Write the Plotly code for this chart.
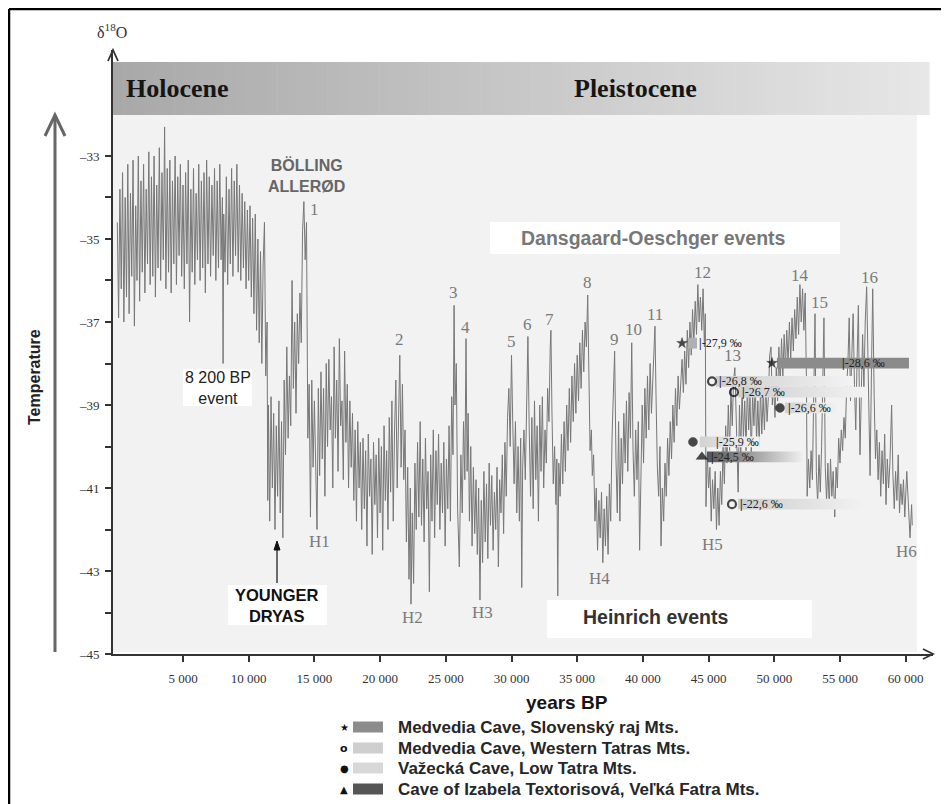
import plotly.graph_objects as go

# ---------------- data ----------------
# delta-18O record (years BP, per mil), in segments
holocene = [(0,-34.6),(100,-36.9),(200,-33.8),(300,-36.2),(400,-33.4),(500,-37.0),(600,-34.0),(700,-36.4),
            (800,-33.2),(900,-36.8),(1000,-33.9),(1100,-35.9),(1200,-33.1),(1300,-37.1),(1400,-34.2),(1500,-36.0),
            (1600,-33.0),(1700,-36.5),(1800,-33.6),(1900,-35.8),(2000,-33.2),(2100,-36.3),(2200,-33.8),(2300,-35.6),
            (2400,-32.9),(2500,-36.1),(2600,-33.5),(2700,-35.9),(2800,-33.0),(2900,-36.4),(3000,-33.7),(3100,-35.7),
            (3200,-32.8),(3300,-36.0),(3400,-33.4),(3500,-35.5),(3600,-32.3),(3700,-36.2),(3800,-33.3),(3900,-35.8),
            (4000,-33.1),(4100,-36.3),(4200,-33.6),(4300,-35.6),(4400,-33.0),(4500,-36.1),(4600,-33.5),(4700,-35.4),
            (4800,-33.2),(4900,-35.9),(5000,-33.7),(5100,-36.2),(5200,-33.4),(5300,-35.6),(5400,-33.1),(5500,-37.0),
            (5600,-33.8),(5700,-35.8),(5800,-33.3),(5900,-36.1),(6000,-33.9),(6100,-35.5),(6200,-33.2),(6300,-36.0),
            (6400,-33.6),(6500,-35.7),(6600,-33.4),(6700,-36.3),(6800,-33.1),(6900,-35.6),(7000,-33.5),(7100,-35.9),
            (7200,-33.7),(7300,-35.4),(7400,-33.3),(7500,-36.0),(7600,-33.6),(7700,-35.7),(7800,-33.2),(7900,-35.5),
            (8000,-34.0),(8050,-38.0),(8100,-34.4),(8200,-35.8),(8300,-33.5),(8400,-36.1),(8500,-33.8),(8600,-35.6),
            (8700,-33.3),(8800,-35.9),(8900,-33.6),(9000,-35.4),(9100,-33.2),(9200,-35.8),(9300,-33.7),(9400,-36.0),
            (9500,-33.9),(9600,-35.7),(9700,-34.1),(9800,-36.2),(9900,-34.3),(10000,-36.0)]

deglaciation = [(10100,-34.2),(10200,-36.4),(10300,-34.5),(10400,-36.8),(10500,-34.4),(10600,-37.2),(10700,-35.0),
                (10800,-37.5),(10900,-35.3),(11000,-38.0),(11100,-35.6),(11200,-34.6),(11300,-38.3),(11400,-37.0),
                (11450,-41.3),(11500,-39.0),(11600,-41.8),(11700,-38.8),(11800,-41.0),(11900,-39.2),(12000,-42.0),
                (12100,-39.5),(12200,-41.2),(12300,-38.9),(12400,-41.6),(12500,-39.4),(12600,-42.2),(12700,-38.4),
                (12800,-40.2),(12900,-37.6),(13000,-39.8),(13100,-38.3),(13200,-39.5),(13300,-36.0),(13400,-38.6),
                (13500,-37.0),(13600,-39.2),(13700,-36.8),(13800,-38.0),(13900,-36.3),(14000,-37.5),(14100,-34.8),
                (14200,-34.1),(14300,-35.5),(14400,-34.6),(14450,-36.4),(14500,-39.8),(14600,-38.5),(14700,-41.7),
                (14800,-38.4),(14900,-40.5),(15000,-38.9),(15100,-41.0),(15200,-42.0),(15300,-38.6),(15400,-40.7)]

lgm = [(15500,-38.2),(15600,-40.3),(15700,-38.6),(15800,-41.2),(15900,-38.0),(16000,-40.0),(16100,-37.9),
       (16200,-39.6),(16300,-38.8),(16400,-41.0),(16500,-37.6),(16600,-39.8),(16700,-38.4),(16800,-40.6),
       (16900,-37.4),(17000,-39.5),(17100,-38.9),(17200,-40.8),(17300,-37.7),(17400,-39.9),(17500,-38.5),
       (17600,-41.0),(17700,-38.9),(17800,-40.5),(17900,-39.2),(18000,-41.3),(18100,-39.6),(18200,-41.8),
       (18300,-39.4),(18400,-41.0),(18500,-39.9),(18600,-42.0),(18700,-39.8),(18800,-41.5),(18900,-40.1),
       (19000,-42.4),(19100,-39.7),(19200,-41.2),(19300,-40.3),(19400,-42.6),(19500,-39.9),(19600,-41.4),
       (19700,-40.2),(19800,-42.2),(19900,-39.8),(20000,-41.6),(20100,-40.0),(20200,-42.5),(20300,-39.5),
       (20400,-41.3),(20500,-40.1),(20600,-42.0),(20700,-39.3),(20800,-41.1),(20900,-38.9),(21000,-41.8),
       (21100,-39.6),(21200,-38.4),(21300,-41.0),(21400,-39.2),(21500,-37.8),(21600,-40.5),(21700,-38.5)]

glacial_a = [(21800,-40.8),(21900,-39.6),(22000,-42.3),(22100,-40.5),(22200,-43.2),(22300,-41.0),(22350,-43.8),
             (22450,-41.6),(22550,-43.3),(22650,-40.4),(22750,-42.0),(22850,-39.9),(22950,-41.7),(23050,-39.4),
             (23150,-41.9),(23250,-40.3),(23350,-42.3),(23450,-39.8),(23550,-41.5),(23650,-40.6),(23750,-43.5),
             (23850,-40.2),(23950,-41.8),(24050,-39.6),(24150,-42.2),(24250,-40.1),(24350,-41.4),(24450,-39.7),
             (24550,-42.0),(24650,-40.4),(24750,-41.6),(24850,-39.9),(24950,-42.4),(25050,-40.3),(25150,-41.5),
             (25250,-39.5),(25350,-41.8),(25450,-38.8),(25550,-40.2),(25630,-36.6),(25700,-39.0),(25800,-38.0),
             (25900,-41.5),(26030,-42.9),(26150,-40.2),(26250,-41.6),(26350,-39.4),(26450,-40.8),(26540,-37.4),
             (26620,-40.6),(26700,-39.2),(26800,-41.8),(26900,-40.0),(27000,-42.4),(27100,-40.5),(27200,-42.1),
             (27300,-40.8),(27400,-42.6),(27500,-41.0),(27600,-43.7),(27700,-41.3),(27800,-42.8),(27900,-40.6),
             (28000,-42.3),(28100,-40.9),(28200,-42.7),(28300,-40.4),(28400,-41.9),(28500,-40.7),(28600,-42.5),
             (28700,-41.1),(28800,-42.0),(28900,-40.5),(29000,-42.9),(29100,-40.8),(29200,-41.6),(29300,-40.2),
             (29400,-42.1),(29500,-39.9),(29600,-41.2),(29700,-39.3),(29800,-38.6),(29900,-40.0),(30000,-37.8),
             (30100,-39.5),(30200,-40.9),(30300,-39.4),(30400,-41.6),(30500,-40.0),(30600,-41.8),(30700,-39.8),
             (30780,-43.4),(30850,-40.5),(30950,-39.6),(31050,-40.8),(31150,-38.5),(31250,-37.35),(31350,-39.6),
             (31450,-41.2),(31550,-39.3),(31650,-41.5),(31750,-38.9),(31850,-40.8),(31950,-39.5),(32050,-41.8),
             (32150,-39.0),(32250,-40.6),(32350,-38.8),(32450,-41.0),(32550,-39.6),(32650,-40.4),(32750,-38.6),
             (32850,-39.4),(32950,-37.6),(33000,-37.2),(33080,-39.2),(33180,-40.9),(33280,-40.0),(33380,-41.4),
             (33450,-40.3),(33520,-43.6)]

glacial_b = [(33600,-40.4),(33700,-41.2),(33800,-39.7),(33900,-40.9),(34000,-39.4),(34100,-40.6),(34200,-39.0),
             (34300,-40.1),(34400,-38.6),(34500,-39.9),(34600,-38.3),(34700,-39.4),(34800,-38.0),(34900,-39.2),
             (35000,-37.8),(35100,-38.9),(35200,-37.5),(35300,-38.6),(35400,-37.2),(35500,-38.2),(35600,-37.0),
             (35700,-37.6),(35800,-36.35),(35900,-38.4),(35980,-40.1),(36080,-39.6),(36150,-40.7),(36250,-40.2),
             (36350,-41.8),(36450,-41.0),(36550,-42.5),(36650,-41.3),(36750,-42.2),(36850,-41.1),(36950,-42.8),
             (37050,-41.5),(37150,-42.4),(37250,-41.2),(37350,-42.6),(37450,-40.9),(37550,-41.8),(37650,-39.8),
             (37750,-38.6),(37850,-37.7),(37950,-40.3),(38050,-41.6),(38150,-39.4),(38250,-41.8),(38350,-39.8),
             (38450,-40.9),(38550,-39.2),(38650,-40.4),(38750,-38.9),(38850,-40.6),(38950,-38.7),(39050,-39.8),
             (39150,-37.5),(39250,-40.1),(39350,-41.2),(39450,-39.6),(39550,-40.8),(39650,-39.4),(39750,-42.5),
             (39850,-40.2),(39950,-39.0),(40050,-40.4),(40150,-38.6),(40250,-39.8),(40350,-38.3),(40450,-39.6),
             (40550,-38.0),(40650,-39.2),(40750,-38.4),(40850,-37.6),(40920,-37.1),(41000,-38.8),(41100,-40.5),
             (41200,-41.2),(41300,-40.0),(41380,-42.4),(41480,-41.0),(41580,-41.8),(41680,-40.4),(41780,-41.2),
             (41880,-39.8),(41980,-40.7),(42080,-39.4),(42180,-40.3),(42280,-39.0),(42380,-39.9),(42480,-38.6),
             (42580,-39.5),(42680,-38.3),(42780,-39.1),(42880,-38.4),(42980,-37.9),(43080,-38.7),(43180,-37.7),
             (43280,-38.5),(43380,-37.2),(43480,-38.1),(43580,-37.0),(43680,-37.8),(43780,-36.7),(43880,-37.5),
             (43980,-36.5),(44080,-37.3),(44180,-36.1),(44280,-37.0),(44380,-36.4),(44480,-37.2),(44580,-36.2),
             (44680,-37.6),(44750,-36.8),(44800,-41.45),(44900,-40.2),(45000,-41.0),(45100,-40.5),(45200,-41.8),
             (45300,-40.8),(45400,-41.5),(45500,-40.6),(45600,-42.0),(45700,-41.0),(45800,-41.9)]

glacial_c = [(45900,-40.6),(46000,-41.4),(46100,-40.0),(46200,-40.9),(46300,-39.5),(46400,-40.4),(46500,-39.0),
             (46600,-40.1),(46700,-38.6),(46800,-39.5),(46900,-38.4),(47000,-38.1),(47100,-39.2),(47250,-41.1),
             (47350,-39.0),(47450,-40.2),(47550,-38.6),(47650,-39.8),(47750,-38.9),(47850,-40.1),(47950,-38.5),
             (48050,-39.6),(48150,-38.8),(48250,-40.2),(48350,-38.7),(48450,-39.5),(48550,-38.4),(48650,-39.9),
             (48750,-38.9),(48850,-40.0),(48950,-38.6),(49050,-39.7),(49150,-38.8),(49250,-39.6),(49350,-38.5),
             (49450,-39.4),(49550,-38.8),(49650,-37.8),(49750,-37.6),(49850,-39.0),(49950,-38.5),(50050,-39.3),
             (50150,-38.1),(50250,-38.9),(50350,-37.6),(50450,-38.5),(50550,-37.4),(50650,-38.3),(50750,-37.3),
             (50850,-38.1),(50950,-37.2),(51050,-38.0),(51150,-37.0),(51250,-37.9),(51350,-36.9),(51450,-37.7),
             (51550,-36.7),(51650,-37.4),(51750,-36.4),(51850,-37.3),(51950,-36.1),(52050,-37.0),(52150,-36.2),
             (52250,-37.2),(52350,-36.3),(52450,-38.5),(52500,-41.2),(52600,-40.3),(52700,-41.0),(52800,-40.1),
             (52900,-40.8),(53000,-38.5),(53100,-36.8),(53200,-40.6),(53300,-41.4),(53400,-40.2),(53500,-41.1),
             (53600,-40.0),(53700,-38.4),(53780,-36.9),(53880,-40.5),(53980,-41.3),(54080,-40.4),(54180,-41.5),
             (54280,-40.3),(54380,-41.2),(54480,-40.6),(54600,-41.7),(54700,-40.5),(54800,-41.0),(54900,-39.8),
             (55000,-40.4),(55100,-39.6),(55200,-40.1),(55300,-39.3),(55400,-39.8),(55500,-38.6),(55600,-38.0),
             (55700,-36.9),(55800,-38.9),(55900,-37.8),(56000,-36.8),(56100,-38.5),(56200,-39.6),(56300,-37.9),
             (56400,-36.6),(56520,-40.2),(56620,-38.4),(56720,-37.3),(56820,-38.6),(56920,-37.0),(57030,-36.15),
             (57130,-38.2),(57230,-39.6),(57290,-40.7),(57390,-38.3),(57490,-36.2),(57600,-38.8),(57700,-40.3),
             (57800,-39.6),(57900,-40.8),(58000,-39.9),(58100,-41.2),(58200,-40.1),(58300,-40.9),(58400,-39.7),
             (58500,-41.4),(58600,-40.3),(58700,-41.0),(58800,-40.4),(58930,-39.0),(59030,-40.7),(59130,-41.5),
             (59230,-40.6),(59330,-41.3),(59430,-40.2),(59530,-41.6),(59630,-40.9),(59730,-41.4),(59830,-40.8),
             (59930,-41.7),(60080,-40.6),(60200,-41.5),(60330,-42.2),(60450,-41.4),(60500,-41.9)]

# Dansgaard-Oeschger (interstadial) labels: label, year, label level
do_labels = ['1','2','3','4','5','6','7','8','9','10','11','12','13','14','15','16']
do_years = [15030,21510,25560,26530,30030,31250,32920,35820,37870,39320,40920,44570,46850,51950,53470,57270]
do_levels = [-34.28,-37.43,-36.28,-37.14,-37.48,-37.07,-36.95,-36.06,-37.43,-37.19,-36.83,-35.80,-37.80,-35.87,-36.52,-35.92]

# Heinrich event labels
h_labels = ['H1','H2','H3','H4','H5','H6']
h_years = [15425,22500,27830,36735,45330,60090]
h_levels = [-42.30,-44.13,-43.99,-43.17,-42.37,-42.54]

# Cave speleothem ranges: site, marker year, bar start, bar end, level, label year, label
cave_site = ['slov','slov','west','west','vaz','vaz','izab','west']
cave_marker_yr = [42980,49830,45260,46930,50430,43810,44490,46780]
cave_start_yr = [43430,50200,45560,47240,50810,44330,44870,47240]
cave_end_yr = [44120,60250,55990,57130,55000,48900,52180,57060]
cave_level = [-37.51,-37.99,-38.43,-38.69,-39.07,-39.89,-40.25,-41.39]
cave_label_yr = [44120,55000,45640,47390,50890,45410,45030,47240]
cave_label = ['-27,9 ‰','-28,6 ‰','-26,8 ‰','-26,7 ‰','-26,6 ‰','-25,9 ‰','-24,5 ‰','-22,6 ‰']

legend_names = ['Medvedia Cave, Slovenský raj Mts.',
                'Medvedia Cave, Western Tatras Mts.',
                'Važecká Cave, Low Tatra Mts.',
                'Cave of Izabela Textorisová, Veľká Fatra Mts.']

x_tickvals = [5000,10000,15000,20000,25000,30000,35000,40000,45000,50000,55000,60000]
x_ticktext = ['5 000','10 000','15 000','20 000','25 000','30 000','35 000','40 000','45 000','50 000','55 000','60 000']
y_tickvals = [-45,-43,-41,-39,-37,-35,-33]
y_ticktext = ['–45','–43','–41','–39','–37','–35','–33']
y_minor = [-44,-42,-40,-38,-36,-34]

# ---------------- styling / layout ----------------
OFF = 8                       # the page body margin that the browser adds
W, H = 949 - OFF, 804 - OFF
PL, PR, PT, PB = 113, 933, 50, 654   # plot area, in page pixels

def xp(px):
    return (px - PL) / (PR - PL)

def yp(py):
    return (PB - py) / (PB - PT)

SERIF = 'Liberation Serif'
SANS = 'Liberation Sans'

site_style = {
    'slov': dict(symbol='star', size=8, lw=0.5, c0='#a6a6a6', c1='#8a8a8a'),
    'west': dict(symbol='circle-open', size=8, lw=2.2, c0='#cdcdcd', c1='#f3f3f3'),
    'vaz': dict(symbol='circle', size=9, lw=0.5, c0='#d2d2d2', c1='#f3f3f3'),
    'izab': dict(symbol='triangle-up', size=10, lw=0.5, c0='#555555', c1='#f0f0f0'),
}

segments = [holocene, deglaciation, lgm, glacial_a, glacial_b, glacial_c]
years, d18o = [], []
for seg in segments:
    for yr, v in seg:
        years.append(yr)
        d18o.append(v)

fig = go.Figure()

fig.add_trace(go.Scatter(x=years, y=d18o, mode='lines',
                         line=dict(color='#777777', width=1), hoverinfo='skip'))

# cave bars (gradient-filled)
for i in range(len(cave_site)):
    st = site_style[cave_site[i]]
    hh = 0.13
    x0, x1, lv = cave_start_yr[i], cave_end_yr[i], cave_level[i]
    c0, c1 = st['c0'], st['c1']
    if i == 1:
        c0, c1 = '#8c8c8c', '#8a8a8a'
    if i == 0:
        c0, c1 = '#b0b0b0', '#b0b0b0'
    fig.add_trace(go.Scatter(x=[x0, x1, x1, x0, x0], y=[lv - hh, lv - hh, lv + hh, lv + hh, lv - hh],
                             mode='lines', fill='toself', line=dict(width=0),
                             fillgradient=dict(type='horizontal', colorscale=[[0, c0], [1, c1]]),
                             hoverinfo='skip'))

fig.add_trace(go.Scatter(
    x=cave_marker_yr, y=cave_level, mode='markers',
    marker=dict(symbol=[site_style[s]['symbol'] for s in cave_site],
                size=[site_style[s]['size'] for s in cave_site],
                color='black',
                line=dict(color='black', width=[site_style[s]['lw'] for s in cave_site])),
    hoverinfo='skip'))

shapes = []
# light grey plotting background
shapes.append(dict(type='rect', xref='paper', yref='paper', x0=xp(113), x1=xp(917), y0=yp(652), y1=yp(115),
                   fillcolor='#f2f2f2', line=dict(width=0), layer='below'))
# epoch band with horizontal gradient
n = 80
bx0, bx1 = 113, 929
for k in range(n):
    a = bx0 + (bx1 - bx0) * k / n
    b = bx0 + (bx1 - bx0) * (k + 1) / n + 0.6
    g = int(round(168 + (231 - 168) * (k + 0.5) / n))
    shapes.append(dict(type='rect', xref='paper', yref='paper', x0=xp(a), x1=xp(b), y0=yp(115), y1=yp(62),
                       fillcolor=f'rgb({g},{g},{g})', line=dict(width=0), layer='below'))
# white label boxes
for (a, b, c, d) in [(183, 252, 369, 406), (228, 327, 585, 625), (490, 840, 222, 254), (547, 812, 600, 638)]:
    shapes.append(dict(type='rect', xref='paper', yref='paper', x0=xp(a), x1=xp(b), y0=yp(d), y1=yp(c),
                       fillcolor='white', line=dict(width=0), layer='below'))

def seg_line(x0, y0, x1, y1, color, width):
    shapes.append(dict(type='line', xref='paper', yref='paper', x0=xp(x0), y0=yp(y0), x1=xp(x1), y1=yp(y1),
                       line=dict(color=color, width=width)))

def polyline(pts, color, width, fill=None):
    path = 'M ' + ' L '.join(f'{xp(a)} {yp(b)}' for a, b in pts)
    if fill:
        path += ' Z'
    shapes.append(dict(type='path', xref='paper', yref='paper', path=path,
                       line=dict(color=color, width=width), fillcolor=fill if fill else 'rgba(0,0,0,0)'))

# Temperature arrow
seg_line(55, 652, 55, 116, '#666666', 3)
polyline([(45, 136), (55, 115), (65, 136)], '#666666', 3)
# axis arrowheads
polyline([(108, 61), (113, 50), (118, 61)], '#333333', 1.8)
polyline([(923, 649), (933, 654), (923, 659)], '#333333', 1.8)
# Younger Dryas arrow
seg_line(277, 583, 277, 548, '#111111', 1.2)
polyline([(274, 550), (277, 541), (280, 550)], '#111111', 1, fill='#111111')
# outer frame
seg_line(9, 9, 942, 9, 'black', 2.5)
seg_line(9, 9, 9, 810, 'black', 2.5)
seg_line(942, 9, 942, 810, 'black', 1.5)

# legend swatches
sw_colors = ['#8c8c8c', '#cfcfcf', '#d8d8d8', '#555555']
row_y = [727, 748, 768, 789]
for c, ry in zip(sw_colors, row_y):
    shapes.append(dict(type='rect', xref='paper', yref='paper', x0=xp(353), x1=xp(383), y0=yp(ry + 5.5),
                       y1=yp(ry - 5.5), fillcolor=c, line=dict(width=0)))

ann = []

def ptext(x, y, text, size, color, family=SANS, xanchor='center', textangle=0):
    ann.append(dict(xref='paper', yref='paper', x=xp(x), y=yp(y), text=text, showarrow=False,
                    xanchor=xanchor, yanchor='middle', textangle=textangle,
                    font=dict(family=family, size=size, color=color)))

ptext(112, 31, 'δ<sup>18</sup>O', 16, '#333333', SERIF)
ptext(124, 88, '<b>Holocene</b>', 26, '#151515', SERIF, xanchor='left')
ptext(635, 88, '<b>Pleistocene</b>', 26, '#151515', SERIF)
ptext(35, 377, '<b>Temperature</b>', 16, '#222222', SANS, textangle=-90)
ptext(306, 176, '<b>BÖLLING<br>ALLERØD</b>', 16, '#666666')
ptext(218, 388, '8 200 BP<br>event', 16, '#222222')
ptext(277, 605, '<b>YOUNGER<br>DRYAS</b>', 16.5, '#111111')
ptext(653, 238, '<b>Dansgaard-Oeschger events</b>', 19.5, '#777777')
ptext(655, 617, '<b>Heinrich events</b>', 19.5, '#333333')
ptext(567, 702, '<b>years BP</b>', 19, '#151515')

legend_glyphs = ['★', 'o', '●', '▲']
glyph_sizes = [10, 11, 10, 10]
for gl, gs, ry, name in zip(legend_glyphs, glyph_sizes, row_y, legend_names):
    ptext(344, ry, f'<b>{gl}</b>', gs, '#111111', 'DejaVu Sans')
    ptext(396, ry, f'<b>{name}</b>', 17, '#262626', SANS, xanchor='left')

for lab, x, y in zip(do_labels, do_years, do_levels):
    ann.append(dict(x=x, y=y, text=lab, showarrow=False, xanchor='center', yanchor='middle',
                    font=dict(family=SERIF, size=17, color='#7a7a7a')))
for lab, x, y in zip(h_labels, h_years, h_levels):
    ann.append(dict(x=x, y=y, text=lab, showarrow=False, xanchor='center', yanchor='middle',
                    font=dict(family=SERIF, size=17, color='#7a7a7a')))
for lab, x, y in zip(cave_label, cave_label_yr, cave_level):
    ann.append(dict(x=x, y=y, text='<b>|</b>' + lab, showarrow=False, xanchor='left', yanchor='middle',
                    font=dict(family=SERIF, size=12, color='#222222')))

fig.update_layout(
    width=W, height=H,
    margin=dict(l=PL - OFF, r=W - (PR - OFF), t=PT - OFF, b=H - (PB - OFF), pad=0),
    paper_bgcolor='white', plot_bgcolor='rgba(0,0,0,0)',
    showlegend=False,
    shapes=shapes, annotations=ann,
    xaxis=dict(range=[-327, 62078], showgrid=False, zeroline=False, showline=True,
               linecolor='#333333', linewidth=2, ticks='outside', ticklen=6, tickwidth=1.5,
               tickcolor='#333333', tickvals=x_tickvals, ticktext=x_ticktext, ticklabelstandoff=5,
               tickfont=dict(family=SERIF, size=13, color='#333333'), fixedrange=True),
    yaxis=dict(range=[-45.0, -30.446], showgrid=False, zeroline=False, showline=True,
               linecolor='#333333', linewidth=2, ticks='outside', ticklen=6, tickwidth=1.5,
               tickcolor='#333333', tickvals=y_tickvals, ticktext=y_ticktext, ticklabelstandoff=3,
               minor=dict(tickmode='array', tickvals=y_minor, ticks='outside', ticklen=6,
                          tickwidth=1.5, tickcolor='#333333'),
               tickfont=dict(family=SERIF, size=13, color='#333333'), fixedrange=True),
)

fig.write_html('out.html')
